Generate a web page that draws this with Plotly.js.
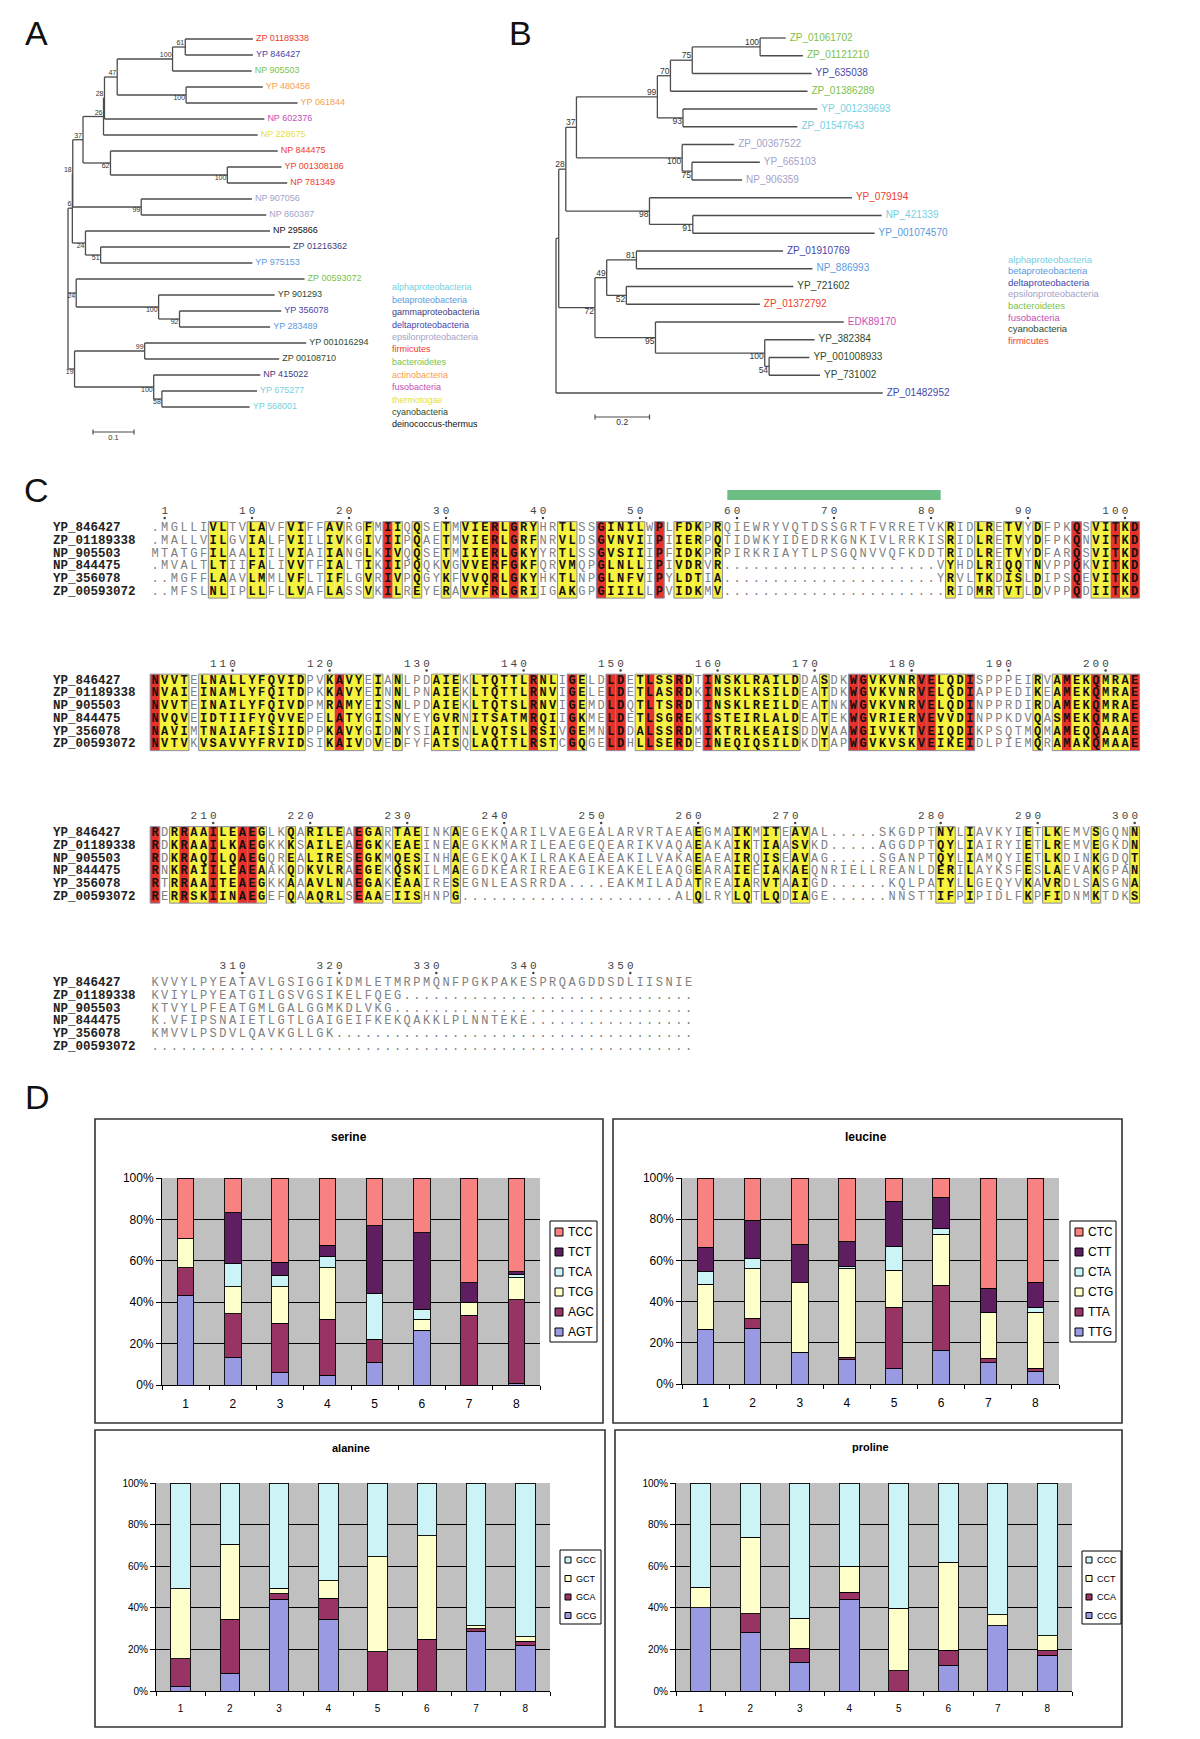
<!DOCTYPE html>
<html><head><meta charset="utf-8">
<script src="https://cdn.plot.ly/plotly-3.0.1.min.js"></script>
<style>html,body{margin:0;padding:0;background:#fff}#fig{width:1200px;height:1739px}</style>
</head><body><div id="fig"></div>
<script>
// ======================= DATA =======================
// ---- Panel A: phylogenetic tree (Newick, bootstrap as internal labels, branch lengths) ----
const treeA_newick = "(((((((((ZP 01189338:0.165,YP 846427:0.165)61:0.031,NP 905503:0.193)100:0.135,(YP 480458:0.187,YP 061844:0.272)100:0.168)47:0.031,NP 602376:0.390)28:0.0024,NP 228675:0.376)26:0.050,(NP 844475:0.408,(YP 001308186:0.132,NP 781349:0.146)100:0.285)62:0.067)37:0.025,(NP 907056:0.270,NP 860387:0.305)99:0.167)18:0.001,(NP 295866:0.450,(ZP 01216362:0.462,YP 975153:0.370)51:0.037)24:0.032)6:0.0106,(ZP 00593072:0.557,(YP 901293:0.283,(YP 356078:0.248,YP 283489:0.221)92:0.051)100:0.201)24:0.020,((YP 001016294:0.394,ZP 00108710:0.328)99:0.171,(NP 415022:0.260,(YP 675277:0.232,YP 568001:0.214)58:0.020)100:0.193)19:0.016);";
const treeA_leafGroups = ['firmicutes','deltaproteobacteria','bacteroidetes','actinobacteria','actinobacteria','fusobacteria','thermotogae','firmicutes','firmicutes','firmicutes','epsilonproteobacteria','epsilonproteobacteria','deinococcus-thermus','gammaproteobacteria','betaproteobacteria','bacteroidetes','cyanobacteria','deltaproteobacteria','betaproteobacteria','cyanobacteria','cyanobacteria','gammaproteobacteria','alphaproteobacteria','alphaproteobacteria'];
const treeA_legend = ['alphaproteobacteria','betaproteobacteria','gammaproteobacteria','deltaproteobacteria','epsilonproteobacteria','firmicutes','bacteroidetes','actinobacteria','fusobacteria','thermotogae','cyanobacteria','deinococcus-thermus'];
const treeA_scale = 0.1;

// ---- Panel B ----
const treeB_newick = "((((((((ZP_01061702:0.094,ZP_01121210:0.157)100:0.249,YP_635038:0.438)75:0.080,ZP_01386289:0.503)70:0.048,(YP_001239693:0.493,ZP_01547643:0.420)93:0.094)99:0.297,(ZP_00367522:0.191,(YP_665103:0.249,NP_906359:0.184)75:0.036)100:0.388)37:0.039,(YP_079194:0.743,(NP_421339:0.693,YP_001074570:0.667)91:0.159)98:0.307)28:0.026,(((ZP_01910769:0.538,NP_886993:0.646)81:0.109,(YP_721602:0.613,ZP_01372792:0.490)52:0.072)49:0.043,(EDK89170:0.691,(YP_382384:0.183,(YP_001008933:0.148,YP_731002:0.187)54:0.016)100:0.401)95:0.222)72:0.133):0.010,ZP_01482952:1.199);";
const treeB_leafGroups = ['bacteroidetes','bacteroidetes','deltaproteobacteria','bacteroidetes','alphaproteobacteria','alphaproteobacteria','epsilonproteobacteria','epsilonproteobacteria','epsilonproteobacteria','firmicutes','alphaproteobacteria','betaproteobacteria','deltaproteobacteria','betaproteobacteria','cyanobacteria','firmicutes','fusobacteria','cyanobacteria','cyanobacteria','cyanobacteria','deltaproteobacteria'];
const treeB_legend = ['alphaproteobacteria','betaproteobacteria','deltaproteobacteria','epsilonproteobacteria','bacteroidetes','fusobacteria','cyanobacteria','firmicutes'];
const treeB_scale = 0.2;

// ---- Panel C: alignment ----
const alnNames = ['YP_846427','ZP_01189338','NP_905503','NP_844475','YP_356078','ZP_00593072'];
const alnBlock1 = [
 '.MGLLIVLTV LAVFVIFFAV RGFMIIQQSE TMVIERLGRY HRTLSSGINI LWPLFDKPRQ IEWRYVQTDS SGRTFVRRET VKRIDLRETV YDFPKQSVIT KD',
 '.MALLVILGV IALFVIILIV KGIVIIPQAE TMVIERLGRF NRVLDSGVNV IIPIIERPQT IDWKYIDEDR KGNKIVLRRK ISRIDLRETV YDFPKQNVIT KD',
 'MTATGFILAA LIILVIAIIA NGLKIVQQSE TMIIERLGKY YRTLSSGVSI IIPFIDKPRP IRKRIAYTLP SGQNVVQFKD DTRIDLRETV YDFARQSVIT KD',
 '.MVALTLTII FALIVVTFIA LTIKIIPQQK VGVVERFGKF QRVMQPGLNL LIPIVDRVR. .......... .......... .VYHDLRIQQ TNVPPQKVIT KD',
 '..MGFFLAAV LMMLVFLTIF LGVRIVPQGY KFVVQRLGKY HKTLNPGLNF VIPYLDTIA. .......... .......... .YRVLTKDIS LDIPSQEVIT KD',
 '..MFSLNLIP LLFLLVAFLA SSVKILREYE RAVVFRLGRI IGAKGPGIII LLPVIDKMV. .......... .......... ..RIDMRTVT LDVPPQDIIT KD'];
const alnBlock2 = [
 'NVVTELNALL YFQVIDPVKA VYEIANLPDA IEKLTQTTLR NLIGELDLDE TLSSRDTINS KLRAILDDAS DKWGVKVNRV ELQDISPPPE IRVAMEKQMR AE',
 'NVAIEINAML YFQITDPKKA VYEINNLPNA IEKLTQTTLR NVIGELELDE TLASRDKINS KLKSILDEAT DKWGVKVNRV ELQDIAPPED IKEAMEKQMR AE',
 'NVVTEINAIL YFQIVDPMRA MYEISNLPDA IEKLTQTSLR NVIGEMDLDQ TLTSRDTINS KLREILDEAT NKWGVKVNRV ELQDINPPRD IRDAMEKQMR AE',
 'NVQVEIDTII FYQVVEPELA TYGISNYEYG VRNITSATMR QIIGKMELDE TLSGREKIST EIRLALDEAT EKWGVRIERV EVVDINPPKD VQASMEKQMR AE',
 'NAVIMTNAIA FISIIDPPKA VYGIDNYSIA ITNLVQTSLR SIVGEMNLDD ALSSRDMIKT RLKEAISDDV AAWGIVVKTV EIQDIKPSQT MQMAMEQQAA AE',
 'NVTVKVSAVV YFRVIDSIKA IVDVEDFYFA TSQLAQTTLR STCGQGELDH LLSERDEINE QIQSILDKDT APWGVKVSKV EIKEIDLPIE MQRAMAKQMA AE'];
const alnBlock3 = [
 'RDRRAAILEA EGLKQARILE AEGARTAEIN KAEGEKQARI LVAEGEALAR VRTAEAEGMA IKMITEAVAL .....SKGDP TNYLIAVKYI ETLKEMVSGQ NN',
 'RDKRAAILKA EGKKKSAILE AEGKKEAEIN EAEGKKMARI LEAEGEQEAR IKVAQAEAKA IKTIAASVKD .....AGGDP TQYLIAIRYI ETLREMVEGK DN',
 'RDKRAQILQA EGQREALIRE SEGKMQESIN HAEGEKQAKI LRAKAEAEAK ILVAKAEAEA IRQISEAVAG .....SGANP TQYLIAMQYI ETLKDINKGD QT',
 'RNKRAIILEA EAAKQDKVLR AEGEKQSKIL MAEGDKEARI REAEGIKEAK ELEAQGEARA IEEIAKAEQN RIELLREANL DERILAYKSF ESLAEVAKGP AN',
 'RTRRAAITEA EGKKAAAVLN AEGAKEAAIR ESEGNLEASR RDA....EAK MILADATREA IARVTAAIGD ......KQLP ATYLLGEQYV KAVRDLSASG NA',
 'RERRSKIINA EGEFQAAQRL SEAAEIISHN PG........ .......... ....ALQLRY LQTLQDIAGE ......NNST TIFPIPIDLF KPFIDNMKTD KS'];
const alnBlock4 = [
 'KVVYLPYEAT AVLGSIGGIK DMLETMRPMQ NFPGKPAKES PRQAGDDSDL IISNIE',
 'KVIYLPYEAT GILGSVGSIK ELFQEG.... .......... .......... ......',
 'KTVYLPFEAT GMLGALGGMK DLVKG..... .......... .......... ......',
 'K.VFIPSNAI ETLGTLGAIG EIFKEKQAKK LPLNNTEKE. .......... ......',
 'KMVVLPSDVL QAVKGLLGK. .......... .......... .......... ......',
 '.......... .......... .......... .......... .......... ......'];
const alnRedCols = [
 [25,36,38,47,53,96,100,102],
 [1,20,40,44,48,49,52,55,58,73,74,80,81,85,95,98,102],
 [1,4,7,10,11,22],
 []];
const alnYellowCols = [
 [7,8,11,12,15,16,19,20,23,26,28,31,33,34,35,37,39,40,43,44,48,49,50,51,55,56,57,59,83,86,87,89,90,92,98,99,101],
 [2,3,4,6,7,8,9,10,11,12,13,14,15,16,19,21,22,24,26,30,31,32,34,35,36,37,38,39,41,42,45,51,53,54,56,59,60,61,62,63,64,65,66,67,70,75,76,77,78,79,82,83,84,92,94,96,97,99,100,101],
 [3,5,6,8,9,12,15,17,18,19,20,23,24,26,27,28,32,57,61,62,64,65,67,68,82,83,85,91,93,94,98,102],
 []];
const helixResidues = [59, 81];

// ---- Panel D: codon usage (% of codons, bars 1..8) ----
const genomeIdx = [1,2,3,4,5,6,7,8];
const serineCodons = ['AGT','AGC','TCG','TCA','TCT','TCC'];
const serineValues = [
 [43.0,13.2, 5.9, 4.8,10.9,26.5, 0.0, 0.8],
 [13.6,21.2,24.0,27.0,11.1, 0.0,33.8,40.5],
 [14.1,13.0,17.5,24.8, 0.0, 5.3, 6.1,10.5],
 [ 0.0,11.1, 5.7, 5.6,22.1, 4.9, 0.0, 1.7],
 [ 0.0,24.6, 6.1, 5.3,32.9,36.8, 9.5, 1.3],
 [29.3,16.9,40.8,32.5,23.0,26.5,50.6,45.2]];
const leucineCodons = ['TTG','TTA','CTG','CTA','CTT','CTC'];
const leucineValues = [
 [26.6,26.9,15.3,11.8, 7.3,16.3,10.2, 6.1],
 [ 0.0, 5.0, 0.0, 1.3,30.0,31.6, 2.4, 1.5],
 [21.8,24.1,33.9,42.9,18.0,24.8,22.2,27.2],
 [ 6.1, 5.0, 0.0, 0.9,11.3, 2.8, 0.0, 2.5],
 [12.0,18.5,18.7,12.5,22.1,15.1,11.7,12.2],
 [33.5,20.5,32.1,30.6,11.3, 9.4,53.5,50.5]];
const alanineCodons = ['GCG','GCA','GCT','GCC'];
const alanineValues = [
 [ 2.1, 8.5,44.1,34.5, 0.0, 0.0,28.6,21.7],
 [13.3,26.0, 2.6,10.1,18.9,24.9, 1.4, 2.2],
 [33.7,36.1, 2.7, 8.5,45.6,49.7, 1.3, 2.3],
 [50.9,29.4,50.6,46.9,35.5,25.4,68.7,73.8]];
const prolineCodons = ['CCG','CCA','CCT','CCC'];
const prolineValues = [
 [40.1,28.1,13.8,43.8, 0.0,12.2,31.3,17.3],
 [ 0.0, 9.0, 6.7, 3.7, 9.8, 7.5, 0.0, 2.0],
 [ 9.8,36.9,14.5,12.4,30.0,42.3, 5.3, 7.3],
 [50.1,26.0,65.0,40.1,60.2,38.0,63.4,73.4]];
const yTickVals = [0,20,40,60,80,100];
const yTickText = ['0%','20%','40%','60%','80%','100%'];

// ======================= STYLE / LAYOUT HELPERS =======================
const W = 1200, H = 1739;
const fx = px => px / W;
const fy = py => 1 - py / H;
const SANS = 'Liberation Sans, Arial, sans-serif';
const NARROW = 'Liberation Sans Narrow, Arial Narrow, Liberation Sans, Arial';
const MONO = 'Liberation Mono, Courier New, monospace';
const groupColor = {
  'alphaproteobacteria':'#78cfe0','betaproteobacteria':'#5b9be0','gammaproteobacteria':'#3d3d80',
  'deltaproteobacteria':'#4646ac','epsilonproteobacteria':'#a2a2c8','firmicutes':'#ee3c2e',
  'bacteroidetes':'#7cc24a','actinobacteria':'#f6a04c','fusobacteria':'#c650b4','thermotogae':'#e6e03a',
  'cyanobacteria':'#2e4a2e','deinococcus-thermus':'#111111'};
const bootPosA = ['', 'u','u','u','u','u','u','u','u','d','d','d','d','d','d','d','d','d','d','u','d','d'];
const bootPosB = ['', '', 'u','u','u','u','u','u','d','d','d','d','d','d','u','u','d','d','d','d'];

const traces = [];
const shapes = [];
const annotations = [];

// ----------------------- Trees -----------------------
function parseNewick(s){
  let i = 0;
  function node(){
    const n = {children:[], name:'', len:0};
    if (s[i] === '('){
      i++;
      n.children.push(node());
      while (s[i] === ','){ i++; n.children.push(node()); }
      i++;
    }
    let nm = '';
    while (i < s.length && ',():;'.indexOf(s[i]) < 0) nm += s[i++];
    n.name = nm.trim();
    if (s[i] === ':'){
      i++; let l = '';
      while (i < s.length && ',();'.indexOf(s[i]) < 0) l += s[i++];
      n.len = parseFloat(l);
    }
    return n;
  }
  return node();
}
function layoutTree(root){
  const leaves = [], internals = [];
  let k = 0;
  (function pre(n, px){
    n.x = (n === root) ? 0 : px + n.len;
    if (n.children.length){
      internals.push(n);
      n.children.forEach(c => pre(c, n.x));
      n.y = (n.children[0].y + n.children[n.children.length-1].y) / 2;
    } else { n.y = k++; leaves.push(n); }
  })(root, 0);
  return {leaves, internals};
}
function addTree(newick, groups, bootPos, xa, ya, st){
  const root = parseNewick(newick);
  const T = layoutTree(root);
  const lx = [], ly = [];
  (function walk(n, p){
    if (p){ lx.push(p.x, n.x, null); ly.push(n.y, n.y, null); }
    if (n.children.length){
      lx.push(n.x, n.x, null);
      ly.push(n.children[0].y, n.children[n.children.length-1].y, null);
      n.children.forEach(c => walk(c, n));
    }
  })(root, null);
  traces.push({type:'scatter', mode:'lines', x:lx, y:ly, xaxis:xa, yaxis:ya,
    line:{color:'#4d4d4d', width:1.3}, hoverinfo:'skip', showlegend:false, cliponaxis:false});
  traces.push({type:'scatter', mode:'text', x:T.leaves.map(l => l.x + st.gap), y:T.leaves.map(l => l.y),
    text:T.leaves.map(l => l.name), textposition:'middle right', xaxis:xa, yaxis:ya,
    textfont:{family:SANS, size:st.fs, color:T.leaves.map((l,i) => groupColor[groups[i]])},
    hoverinfo:'skip', showlegend:false, cliponaxis:false});
  ['u','d'].forEach(pos => {
    const nodes = T.internals.filter((n,i) => n.name && bootPos[i] === pos);
    traces.push({type:'scatter', mode:'text', x:nodes.map(n => n.x - st.bgap), y:nodes.map(n => n.y),
      text:nodes.map(n => n.name), textposition: pos === 'u' ? 'top left' : 'bottom left',
      xaxis:xa, yaxis:ya, textfont:{family:SANS, size:st.bfs, color:'#333'},
      hoverinfo:'skip', showlegend:false, cliponaxis:false});
  });
  return T;
}
const A = {rootPx:68, ppu:410, y0:39, step:16.0};
const B = {rootPx:556, ppu:272.5, y0:38, step:17.75};
addTree(treeA_newick, treeA_leafGroups, bootPosA, 'x', 'y', {gap:3/A.ppu, bgap:1/A.ppu, fs:9, bfs:7});
addTree(treeB_newick, treeB_leafGroups, bootPosB, 'x2', 'y2', {gap:4/B.ppu, bgap:1/B.ppu, fs:10, bfs:8.5});
function addScale(xa, ya, G, pxStart, pyBar, len, fs){
  const x0 = (pxStart - G.rootPx)/G.ppu, x1 = x0 + len;
  const yb = (pyBar - G.y0)/G.step, t = 2.5/G.step;
  traces.push({type:'scatter', mode:'lines', x:[x0,x1,null,x0,x0,null,x1,x1], y:[yb,yb,null,yb-t,yb+t,null,yb-t,yb+t],
    xaxis:xa, yaxis:ya, line:{color:'#4d4d4d', width:1.2}, hoverinfo:'skip', showlegend:false, cliponaxis:false});
  traces.push({type:'scatter', mode:'text', x:[(x0+x1)/2], y:[yb + 2/G.step], text:[String(len)], textposition:'bottom center',
    xaxis:xa, yaxis:ya, textfont:{family:SANS, size:fs, color:'#333'}, hoverinfo:'skip', showlegend:false, cliponaxis:false});
}
addScale('x','y',A,93,432,treeA_scale,7.5);
addScale('x2','y2',B,595,417,treeB_scale,8.5);
treeA_legend.forEach((g,i) => annotations.push({xref:'paper', yref:'paper', x:fx(390), y:fy(287 + i*12.5), xanchor:'left', yanchor:'middle',
  text:g, showarrow:false, font:{family:SANS, size:9, color:groupColor[g]}}));
treeB_legend.forEach((g,i) => annotations.push({xref:'paper', yref:'paper', x:fx(1006), y:fy(259 + i*11.6), xanchor:'left', yanchor:'middle',
  text:g, showarrow:false, font:{family:SANS, size:9.5, color:groupColor[g]}}));

// ----------------------- Alignment -----------------------
const alnBlocks = [alnBlock1, alnBlock2, alnBlock3, alnBlock4].map(b => b.map(s => s.replace(/ /g,'')));
const C = {c0:155, cw:9.7, top:[528,680.5,833,983], rowH:12.75, rulerDy:-16.5};
const rowY = (b,r) => C.top[b] + r*C.rowH;
const nrm = {x:[],y:[],t:[]}, bld = {x:[],y:[],t:[]};
const nmX = [], nmY = [], nmT = [];
const rl = {x:[],y:[],t:[]}, dots = {x:[],y:[]};
let resNo = 0;
const resCol = {};
alnBlocks.forEach((blk,b) => {
  const hi = new Set([...alnRedCols[b], ...alnYellowCols[b]]);
  blk.forEach((s,r) => {
    nmX.push(1 - (C.c0 - 53)/C.cw); nmY.push(rowY(b,r)); nmT.push(alnNames[r]);
    for (let c = 0; c < s.length; c++){
      const ch = s[c], col = c+1;
      const tgt = (hi.has(col) && ch !== '.') ? bld : nrm;
      tgt.x.push(col); tgt.y.push(rowY(b,r)); tgt.t.push(ch);
    }
  });
  const s0 = blk[0];
  for (let c = 0; c < s0.length; c++){
    if (s0[c] === '.') continue;
    resNo++; resCol[resNo] = [b, c+1];
    if (resNo === 1 || resNo % 10 === 0){
      const str = String(resNo);
      for (let d = 0; d < str.length; d++){ rl.x.push(c+1-(str.length-1-d)); rl.y.push(rowY(b,0)+C.rulerDy); rl.t.push(str[d]); }
      dots.x.push(c+1); dots.y.push(rowY(b,0)+C.rulerDy+6.5);
    }
  }
  const y0 = rowY(b,0) - C.rowH/2, y1 = rowY(b,5) + C.rowH/2;
  alnRedCols[b].forEach(col => shapes.push({type:'rect', xref:'x3', yref:'y3', x0:col-0.5, x1:col+0.5, y0:y0, y1:y1,
    fillcolor:'#e5332c', line:{width:0}, layer:'below'}));
  alnYellowCols[b].forEach(col => shapes.push({type:'rect', xref:'x3', yref:'y3', x0:col-0.5, x1:col+0.5, y0:y0, y1:y1,
    fillcolor:'#f6f13c', line:{width:0}, layer:'below'}));
  const cols = [...hi].sort((a,b)=>a-b);
  let st = null, prev = null;
  cols.concat([Infinity]).forEach(col => {
    if (st === null){ st = col; prev = col; return; }
    if (col === prev + 1){ prev = col; return; }
    shapes.push({type:'rect', xref:'x3', yref:'y3', x0:st-0.5, x1:prev+0.5, y0:y0, y1:y1, line:{color:'#8c8ca4', width:1}, layer:'above'});
    st = col; prev = col;
  });
});
{
  const cA = resCol[helixResidues[0]][1], cB = resCol[helixResidues[1]][1];
  shapes.push({type:'rect', xref:'x3', yref:'y3', x0:cA, x1:cB, y0:490, y1:500, fillcolor:'#6cbf84', line:{width:0}, layer:'below'});
}
traces.push({type:'scatter', mode:'text', x:nrm.x, y:nrm.y, text:nrm.t, xaxis:'x3', yaxis:'y3', textposition:'middle center',
  textfont:{family:MONO, size:12, color:'#808080'}, hoverinfo:'skip', showlegend:false, cliponaxis:false});
traces.push({type:'scatter', mode:'text', x:bld.x, y:bld.y, text:bld.t, xaxis:'x3', yaxis:'y3', textposition:'middle center',
  textfont:{family:MONO, size:12, color:'#111', weight:'bold'}, hoverinfo:'skip', showlegend:false, cliponaxis:false});
traces.push({type:'scatter', mode:'text', x:nmX, y:nmY, text:nmT, xaxis:'x3', yaxis:'y3', textposition:'middle right',
  textfont:{family:MONO, size:12.5, color:'#222', weight:'bold'}, hoverinfo:'skip', showlegend:false, cliponaxis:false});
traces.push({type:'scatter', mode:'text', x:rl.x, y:rl.y, text:rl.t, xaxis:'x3', yaxis:'y3', textposition:'middle center',
  textfont:{family:MONO, size:11, color:'#444'}, hoverinfo:'skip', showlegend:false, cliponaxis:false});
traces.push({type:'scatter', mode:'markers', x:dots.x, y:dots.y, xaxis:'x3', yaxis:'y3',
  marker:{size:2.5, color:'#444'}, hoverinfo:'skip', showlegend:false, cliponaxis:false});

// ----------------------- Codon usage charts -----------------------
const barColors = ['#9a9ae2','#983464','#ffffcc','#ccf4f6','#5e1e60','#f88282'];
const charts = [
  {title:'serine', codons:serineCodons, values:serineValues, box:[95,1119,603,1423], plot:[162,1178,540,1385], tfs:12, tickfs:12, bw:0.35,
   leg:{box:[550,1221,597,1342], sq:8, sqx:555, tx:566, y0:1232, step:20, fs:12}, ttl:[349,1137]},
  {title:'leucine', codons:leucineCodons, values:leucineValues, box:[613,1119,1122,1423], plot:[682,1178,1059,1384], tfs:12, tickfs:12, bw:0.35,
   leg:{box:[1070,1221,1116,1342], sq:8, sqx:1075, tx:1086, y0:1232, step:20, fs:12}, ttl:[866,1137]},
  {title:'alanine', codons:alanineCodons, values:alanineValues, box:[95,1430,605,1727], plot:[156,1483,550,1691], tfs:11, tickfs:10, bw:0.4,
   leg:{box:[560,1550,601,1624], sq:6, sqx:565, tx:574, y0:1560, step:18.5, fs:9}, ttl:[351,1448]},
  {title:'proline', codons:prolineCodons, values:prolineValues, box:[615,1430,1122,1727], plot:[676,1483,1072,1691], tfs:11, tickfs:10, bw:0.4,
   leg:{box:[1082,1551,1121,1624], sq:6, sqx:1086, tx:1095, y0:1560, step:18.5, fs:9}, ttl:[870,1447]}
];
const layout = {
  width:W, height:H, margin:{l:0,r:0,t:0,b:0}, paper_bgcolor:'#fff', plot_bgcolor:'rgba(0,0,0,0)',
  barmode:'stack', showlegend:false, font:{family:SANS},
  xaxis:{domain:[0,0.5], range:[(0-A.rootPx)/A.ppu, (600-A.rootPx)/A.ppu], visible:false, anchor:'y'},
  yaxis:{domain:[fy(450),1], range:[(450-A.y0)/A.step, (0-A.y0)/A.step], visible:false, anchor:'x'},
  xaxis2:{domain:[0.4,1], range:[(480-B.rootPx)/B.ppu, (1200-B.rootPx)/B.ppu], visible:false, anchor:'y2'},
  yaxis2:{domain:[fy(450),1], range:[(450-B.y0)/B.step, (0-B.y0)/B.step], visible:false, anchor:'x2'},
  xaxis3:{domain:[0,1], range:[1 - C.c0/C.cw, 1 + (W - C.c0)/C.cw], visible:false, anchor:'y3'},
  yaxis3:{domain:[0,1], range:[H, 0], visible:false, anchor:'x3'},
  shapes:shapes, annotations:annotations
};
charts.forEach((ch,k) => {
  const n = 4 + k, xa = 'x'+n, ya = 'y'+n;
  const [px0,py0,px1,py1] = ch.plot;
  const tickFont = {family: k < 2 ? SANS : NARROW, size:ch.tickfs, color:'#000'};
  layout['xaxis'+n] = {domain:[fx(px0), fx(px1)], anchor:ya, range:[0.5,8.5], tickmode:'array', tickvals:genomeIdx,
    ticktext:genomeIdx.map(String), ticks:'outside', ticklen:8, tickcolor:'rgba(0,0,0,0)', showgrid:false, zeroline:false,
    showline:true, linecolor:'#000', linewidth:1, tickfont:tickFont, fixedrange:true,
    minor:{tick0:0.5, dtick:1, ticks:'outside', ticklen:4, tickcolor:'#000', tickwidth:1, showgrid:false}};
  layout['yaxis'+n] = {domain:[fy(py1), fy(py0)], anchor:xa, range:[0,100], tickmode:'array', tickvals:yTickVals, ticktext:yTickText,
    ticks:'outside', ticklen:5, tickcolor:'#000', showgrid:true, gridcolor:'#000', gridwidth:1, zeroline:false,
    showline:true, linecolor:'#000', linewidth:1, tickfont:tickFont, fixedrange:true};
  shapes.push({type:'rect', xref:xa+' domain', yref:ya+' domain', x0:0, x1:1, y0:0, y1:1, fillcolor:'#c0c0c0', line:{width:0}, layer:'below'});
  ch.codons.forEach((cd,i) => traces.push({type:'bar', x:genomeIdx, y:ch.values[i], name:cd, xaxis:xa, yaxis:ya, width:ch.bw,
    marker:{color:barColors[i], line:{color:'#000', width:0.9}}, hoverinfo:'skip', showlegend:false}));
  const [bx0,by0,bx1,by1] = ch.box;
  shapes.push({type:'rect', xref:'paper', yref:'paper', x0:fx(bx0), x1:fx(bx1), y0:fy(by1), y1:fy(by0), line:{color:'#333', width:1.6}});
  annotations.push({xref:'paper', yref:'paper', x:fx(ch.ttl[0]), y:fy(ch.ttl[1]), text:'<b>'+ch.title+'</b>', showarrow:false,
    font:{family:SANS, size:ch.tfs, color:'#000'}, xanchor:'center', yanchor:'middle'});
  const L = ch.leg;
  shapes.push({type:'rect', xref:'paper', yref:'paper', x0:fx(L.box[0]), x1:fx(L.box[2]), y0:fy(L.box[3]), y1:fy(L.box[1]),
    fillcolor:'#fff', line:{color:'#000', width:1}});
  const order = ch.codons.map((c,i)=>i).reverse();
  order.forEach((i,j) => {
    const yc = L.y0 + j*L.step;
    shapes.push({type:'rect', xref:'paper', yref:'paper', x0:fx(L.sqx), x1:fx(L.sqx+L.sq), y0:fy(yc+L.sq/2), y1:fy(yc-L.sq/2),
      fillcolor:barColors[i], line:{color:'#000', width:1}});
    annotations.push({xref:'paper', yref:'paper', x:fx(L.tx), y:fy(yc), text:ch.codons[i], showarrow:false, xanchor:'left', yanchor:'middle',
      font:{family: k < 2 ? SANS : NARROW, size:L.fs, color:'#000'}});
  });
});
[['A',36,33],['B',520,33],['C',36,490],['D',37,1097]].forEach(([t,x,y]) => annotations.push({xref:'paper', yref:'paper', x:fx(x), y:fy(y),
  text:t, showarrow:false, xanchor:'center', yanchor:'middle', font:{family:SANS, size:34, color:'#111'}}));

Plotly.newPlot('fig', traces, layout, {staticPlot:true, displayModeBar:false});
</script></body></html>
